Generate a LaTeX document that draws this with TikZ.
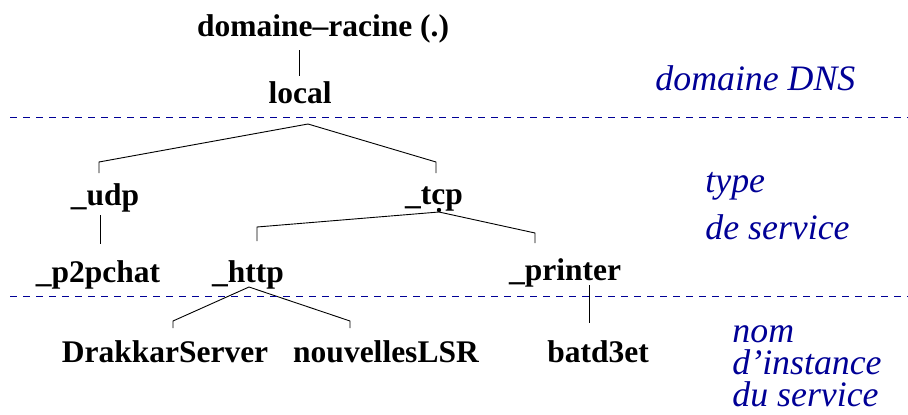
\documentclass[tikz,border=0pt]{standalone}
\usepackage{fontspec}
\setmainfont{Liberation Serif}
\usepackage{tikz}
\usetikzlibrary{positioning}
\definecolor{zoneblue}{RGB}{0,0,150}
\tikzstyle{dnsnode}=[font=\fontsize{31.5}{36}\selectfont\bfseries,inner sep=0pt,anchor=base]
\tikzstyle{zonetext}=[font=\fontsize{35.8}{40}\selectfont\itshape,text=zoneblue,inner sep=0pt,anchor=base west,align=left]
\tikzstyle{boundary}=[draw=zoneblue,dash pattern=on 7pt off 6pt,line width=0.9pt]

\begin{document}
\begin{tikzpicture}[x=1pt,y=-1pt,line width=0.9pt]
\useasboundingbox (0,0) rectangle (908,415);
% arbre DNS
\node [dnsnode] (root) at (323,36) {domaine--racine (.)};
\node [dnsnode] (local) at (300,103) {local};
\node [dnsnode] (udp) at (105,205) {\_udp};
\node [dnsnode] (tcp) at (434,204) {\_tcp};
\node [dnsnode] (p2pchat) at (98,282) {\_p2pchat};
\node [dnsnode] (http) at (248,282) {\_http};
\node [dnsnode] (printer) at (565,280) {\_printer};
\node [dnsnode] (drakkar) at (165,362) {DrakkarServer};
\node [dnsnode] (nouvelles) at (386,362) {nouvellesLSR};
\node [dnsnode] (batd) at (598,362) {batd3et};

% liens
\draw ([shift={(-24,14)}]root.base) -- ([shift={(-1,-27)}]local.base);
\draw ([shift={(8,21)}]local.base) -- ([shift={(-6,-43)}]udp.base) -- ([shift={(-6,-32)}]udp.base);
\draw ([shift={(8,21)}]local.base) -- ([shift={(2,-42)}]tcp.base) -- ([shift={(2,-31)}]tcp.base);
\draw ([shift={(-5,10)}]udp.base) -- ([shift={(2,-38)}]p2pchat.base);
\draw ([shift={(5,8)}]tcp.base) -- ([shift={(9,-55)}]http.base) -- ([shift={(9,-41)}]http.base);
\draw ([shift={(5,8)}]tcp.base) -- ([shift={(-30,-47)}]printer.base) -- ([shift={(-30,-37)}]printer.base);
\fill ([shift={(5,6)}]tcp.base) circle (2.2);
\draw ([shift={(1,5)}]http.base) -- ([shift={(8,-41)}]drakkar.base) -- ([shift={(8,-34)}]drakkar.base);
\draw ([shift={(1,5)}]http.base) -- ([shift={(-36,-41)}]nouvelles.base) -- ([shift={(-36,-34)}]nouvelles.base);
\draw ([shift={(24,5)}]printer.base) -- ([shift={(-9,-39)}]batd.base);

% zones
\draw [boundary] (10,117) -- (908,117);
\draw [boundary] (10,296) -- (908,296);
\node [zonetext] (dnszone) at (655,90) {domaine DNS};
\node [zonetext,font=\fontsize{35.8}{47}\selectfont\itshape] (typezone) at (705,239) {type\\de service};
\node [zonetext,font=\fontsize{35.8}{32}\selectfont\itshape] (instzone) at (732,406) {nom\\d’instance\\du service};
\end{tikzpicture}
\end{document}
